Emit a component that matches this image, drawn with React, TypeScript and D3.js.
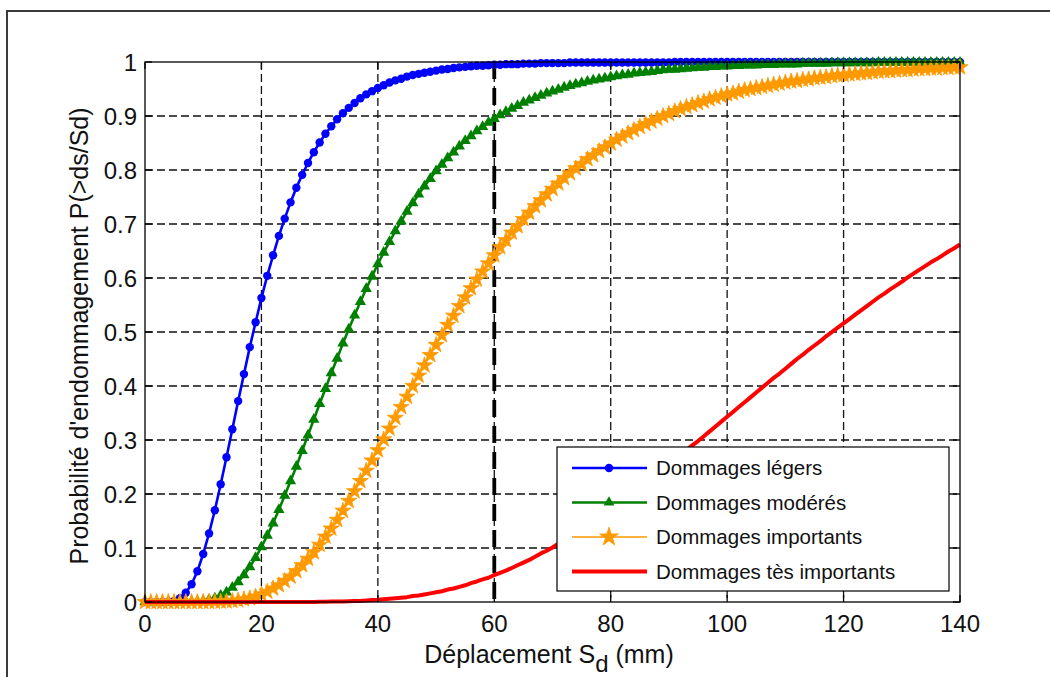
import React from 'react';
import * as d3 from 'd3';

// déplacement spectral Sd (mm), pas de 1 mm
const sd = d3.range(0, 141);

const legers = [
  0, 0, 0, 0, 0.0004, 0.002, 0.007, 0.017, 0.033, 0.057,
  0.089, 0.127, 0.170, 0.218, 0.268, 0.320, 0.372, 0.422, 0.472, 0.518,
  0.563, 0.604, 0.642, 0.678, 0.710, 0.740, 0.767, 0.791, 0.813, 0.833,
  0.851, 0.867, 0.881, 0.894, 0.905, 0.915, 0.924, 0.933, 0.940, 0.946,
  0.952, 0.957, 0.962, 0.966, 0.969, 0.973, 0.976, 0.978, 0.980, 0.982,
  0.984, 0.986, 0.987, 0.989, 0.990, 0.991, 0.992, 0.993, 0.993, 0.994,
  0.995, 0.995, 0.996, 0.996, 0.996, 0.997, 0.997, 0.997, 0.998, 0.998,
  0.998, 0.998, 0.998, 0.999, 0.999, 0.999, 0.999, 0.999, 0.999, 0.999,
  0.999, 0.999, 0.999, 0.999, 0.999, 0.999, 0.999, 0.999, 0.999, 0.999,
  0.999, 1, 1, 1, 1, 1, 1, 1, 1, 1,
  1, 1, 1, 1, 1, 1, 1, 1, 1, 1,
  1, 1, 1, 1, 1, 1, 1, 1, 1, 1,
  1, 1, 1, 1, 1, 1, 1, 1, 1, 1,
  1, 1, 1, 1, 1, 1, 1, 1, 1, 1,
  1,
];

const moderes = [
  0, 0, 0, 0, 0, 0, 0, 0.0001, 0.0004, 0.0009,
  0.002, 0.004, 0.007, 0.012, 0.018, 0.027, 0.037, 0.050, 0.065, 0.082,
  0.102, 0.123, 0.146, 0.171, 0.197, 0.224, 0.251, 0.280, 0.309, 0.338,
  0.367, 0.395, 0.424, 0.451, 0.479, 0.505, 0.531, 0.556, 0.580, 0.603,
  0.626, 0.647, 0.667, 0.687, 0.705, 0.723, 0.739, 0.755, 0.770, 0.784,
  0.798, 0.810, 0.822, 0.833, 0.844, 0.854, 0.863, 0.872, 0.880, 0.888,
  0.895, 0.902, 0.908, 0.914, 0.919, 0.925, 0.929, 0.934, 0.938, 0.942,
  0.946, 0.949, 0.953, 0.956, 0.959, 0.961, 0.964, 0.966, 0.968, 0.970,
  0.972, 0.974, 0.976, 0.977, 0.979, 0.980, 0.981, 0.982, 0.984, 0.985,
  0.986, 0.986, 0.987, 0.988, 0.989, 0.990, 0.990, 0.991, 0.991, 0.992,
  0.992, 0.993, 0.993, 0.994, 0.994, 0.994, 0.995, 0.995, 0.995, 0.996,
  0.996, 0.996, 0.996, 0.997, 0.997, 0.997, 0.997, 0.997, 0.998, 0.998,
  0.998, 0.998, 0.998, 0.998, 0.998, 0.998, 0.999, 0.999, 0.999, 0.999,
  0.999, 0.999, 0.999, 0.999, 0.999, 0.999, 0.999, 0.999, 0.999, 0.999,
  0.999,
];

const importants = [
  0, 0, 0, 0, 0, 0, 0, 0, 0, 0,
  0.0001, 0.0002, 0.0004, 0.0007, 0.001, 0.002, 0.003, 0.005, 0.007, 0.010,
  0.014, 0.019, 0.025, 0.031, 0.039, 0.047, 0.057, 0.068, 0.080, 0.092,
  0.106, 0.121, 0.136, 0.152, 0.169, 0.187, 0.205, 0.224, 0.243, 0.262,
  0.281, 0.301, 0.321, 0.341, 0.361, 0.380, 0.400, 0.419, 0.438, 0.457,
  0.476, 0.494, 0.513, 0.530, 0.548, 0.564, 0.581, 0.597, 0.612, 0.627,
  0.642, 0.657, 0.670, 0.684, 0.696, 0.709, 0.721, 0.733, 0.744, 0.755,
  0.765, 0.775, 0.785, 0.794, 0.803, 0.811, 0.820, 0.827, 0.835, 0.842,
  0.849, 0.856, 0.862, 0.868, 0.874, 0.880, 0.885, 0.890, 0.895, 0.900,
  0.904, 0.909, 0.913, 0.917, 0.920, 0.924, 0.927, 0.931, 0.934, 0.937,
  0.940, 0.942, 0.945, 0.948, 0.950, 0.952, 0.954, 0.956, 0.958, 0.960,
  0.962, 0.964, 0.965, 0.967, 0.968, 0.970, 0.971, 0.972, 0.974, 0.975,
  0.976, 0.977, 0.978, 0.979, 0.980, 0.981, 0.982, 0.983, 0.983, 0.984,
  0.985, 0.985, 0.986, 0.987, 0.987, 0.988, 0.988, 0.989, 0.989, 0.990,
  0.990,
];

const tresImportants = [
  0, 0, 0, 0, 0, 0, 0, 0, 0, 0,
  0, 0, 0, 0, 0, 0, 0, 0, 0, 0,
  0, 0, 0, 0, 0, 0, 0, 0, 0, 0,
  0.0004, 0.0006, 0.0007, 0.0009, 0.001, 0.0015, 0.002, 0.002, 0.003, 0.0035,
  0.004, 0.005, 0.006, 0.007, 0.008, 0.009, 0.011, 0.012, 0.014, 0.016,
  0.018, 0.020, 0.023, 0.025, 0.028, 0.031, 0.035, 0.038, 0.042, 0.045,
  0.050, 0.054, 0.058, 0.063, 0.068, 0.073, 0.078, 0.084, 0.090, 0.095,
  0.101, 0.108, 0.114, 0.121, 0.128, 0.135, 0.142, 0.149, 0.156, 0.164,
  0.172, 0.179, 0.187, 0.195, 0.204, 0.212, 0.220, 0.229, 0.237, 0.246,
  0.254, 0.263, 0.272, 0.281, 0.290, 0.298, 0.307, 0.316, 0.325, 0.334,
  0.343, 0.352, 0.361, 0.370, 0.379, 0.388, 0.397, 0.406, 0.415, 0.423,
  0.432, 0.441, 0.450, 0.458, 0.467, 0.475, 0.483, 0.492, 0.500, 0.508,
  0.516, 0.524, 0.532, 0.540, 0.548, 0.556, 0.564, 0.571, 0.579, 0.586,
  0.593, 0.601, 0.608, 0.615, 0.622, 0.629, 0.635, 0.642, 0.649, 0.655,
  0.662,
];

const xTicks = [0, 20, 40, 60, 80, 100, 120, 140];
const yTicks = [0, 0.1, 0.2, 0.3, 0.4, 0.5, 0.6, 0.7, 0.8, 0.9, 1];
const seuil = 60;

const series = [
  { name: 'Dommages légers', values: legers, color: '#0000ff', width: 2.6, marker: 'circle' },
  { name: 'Dommages modérés', values: moderes, color: '#008000', width: 2.6, marker: 'triangle' },
  { name: 'Dommages importants', values: importants, color: '#ff9900', width: 1.4, marker: 'star' },
  { name: 'Dommages tès importants', values: tresImportants, color: '#ff0000', width: 4, marker: 'none' },
];

const FONT = '"Liberation Sans", Arial, Helvetica, sans-serif';

const tri = d3.symbol().type(d3.symbolTriangle).size(55)();
const star = d3.symbol().type(d3.symbolStar).size(80)();
const triLeg = d3.symbol().type(d3.symbolTriangle).size(50)();
const starLeg = d3.symbol().type(d3.symbolStar).size(110)();

function Marker({ kind, color, cx, cy, legend }) {
  if (kind === 'circle') {
    return <circle cx={cx} cy={cy} r={legend ? 4.2 : 4.2} fill={color} />;
  }
  if (kind === 'triangle') {
    return <path d={legend ? triLeg : tri} transform={`translate(${cx},${cy})`} fill={color} />;
  }
  if (kind === 'star') {
    return (
      <path
        d={legend ? starLeg : star}
        transform={`translate(${cx},${cy})`}
        fill={color}
        stroke={color}
        strokeWidth={0.8}
      />
    );
  }
  return null;
}

export default function App() {
  const left = 145, right = 960, top = 62, bottom = 602;
  const x = d3.scaleLinear().domain([0, 140]).range([left, right]);
  const y = d3.scaleLinear().domain([0, 1]).range([bottom, top]);

  const line = d3
    .line<number>()
    .x((_, i) => x(sd[i]))
    .y(d => y(d));

  const legX = 557, legY = 447, legW = 392, legH = 144;
  const rowH = 34.5;

  return (
    <div style={{ position: 'absolute', left: 0, top: 0 }}>
      <svg width={1050} height={677} style={{ display: 'block', background: '#fff' }}>
        {/* cadre extérieur */}
        <rect x={7} y={11} width={1100} height={720} fill="none" stroke="#3a3a3a" strokeWidth={2} />

        {/* grille */}
        <g stroke="#111" strokeWidth={1.3} strokeDasharray="8,4">
          {xTicks.slice(1, -1).map(t => (
            <line key={'gx' + t} x1={x(t)} x2={x(t)} y1={top} y2={bottom} />
          ))}
          {yTicks.slice(1, -1).map(t => (
            <line key={'gy' + t} x1={left} x2={right} y1={y(t)} y2={y(t)} />
          ))}
        </g>

        {/* seuil Sd = 60 mm */}
        <line
          x1={x(seuil)}
          x2={x(seuil)}
          y1={top}
          y2={bottom}
          stroke="#000"
          strokeWidth={3.8}
          strokeDasharray="17,9"
        />

        {/* courbes */}
        {series.map(s => (
          <g key={s.name}>
            <path d={line(s.values) || ''} fill="none" stroke={s.color} strokeWidth={s.width} strokeLinejoin="round" />
            {s.marker !== 'none' &&
              s.values.map((v, i) => (
                <Marker key={i} kind={s.marker} color={s.color} cx={x(sd[i])} cy={y(v)} legend={false} />
              ))}
          </g>
        ))}

        {/* axes */}
        <rect x={left} y={top} width={right - left} height={bottom - top} fill="none" stroke="#000" strokeWidth={1.3} />
        <g stroke="#000" strokeWidth={1.3}>
          {xTicks.map(t => (
            <g key={'tx' + t}>
              <line x1={x(t)} x2={x(t)} y1={bottom} y2={bottom - 7} />
              <line x1={x(t)} x2={x(t)} y1={top} y2={top + 7} />
            </g>
          ))}
          {yTicks.map(t => (
            <g key={'ty' + t}>
              <line x1={left} x2={left + 7} y1={y(t)} y2={y(t)} />
              <line x1={right} x2={right - 7} y1={y(t)} y2={y(t)} />
            </g>
          ))}
        </g>

        <g fontFamily={FONT} fontSize={24} fill="#111">
          {xTicks.map(t => (
            <text key={'lx' + t} x={x(t)} y={632} textAnchor="middle">
              {t}
            </text>
          ))}
          {yTicks.map(t => (
            <text key={'ly' + t} x={137} y={y(t)} dy="0.36em" textAnchor="end">
              {t}
            </text>
          ))}
        </g>

        <text x={549} y={663} textAnchor="middle" fontFamily={FONT} fontSize={25} fill="#111">
          Déplacement S
          <tspan dy={9} fontSize={24}>d</tspan>
          <tspan dy={-9}> (mm)</tspan>
        </text>

        <text
          transform={`translate(88,${(top + bottom) / 2 + 4}) rotate(-90)`}
          textAnchor="middle"
          fontFamily={FONT}
          fontSize={25}
          fill="#111"
        >
          Probabilité d'endommagement P(&gt;ds/Sd)
        </text>

        {/* légende */}
        <rect x={legX} y={legY} width={legW} height={legH} fill="#fff" stroke="#000" strokeWidth={1.2} />
        {series.map((s, i) => {
          const cy = legY + 21 + i * rowH;
          return (
            <g key={'leg' + s.name}>
              <line x1={legX + 15} x2={legX + 90} y1={cy} y2={cy} stroke={s.color} strokeWidth={s.width} />
              <Marker kind={s.marker} color={s.color} cx={legX + 52} cy={cy} legend={true} />
              <text x={legX + 99} y={cy} dy="0.36em" fontFamily={FONT} fontSize={20.5} fill="#111">
                {s.name}
              </text>
            </g>
          );
        })}
      </svg>
    </div>
  );
}
